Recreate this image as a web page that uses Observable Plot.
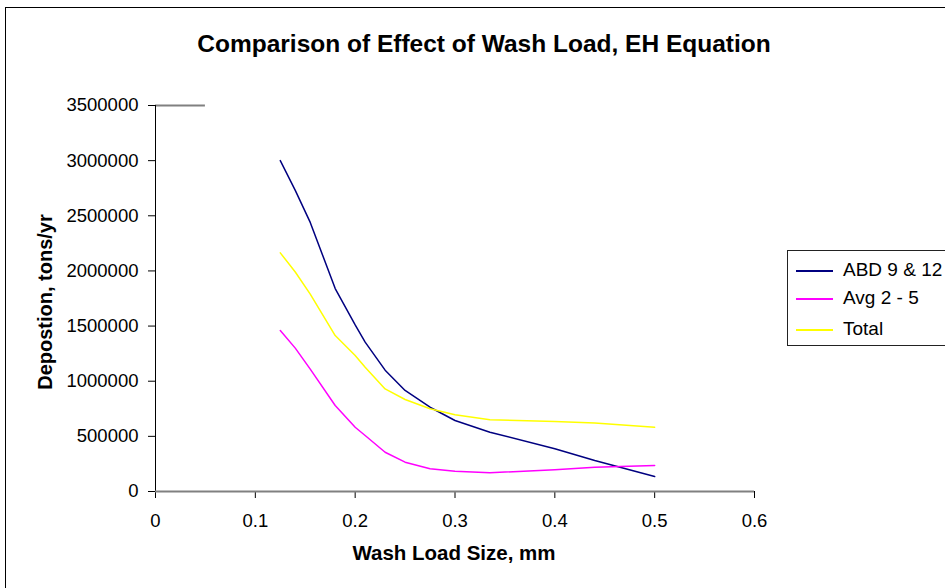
<!DOCTYPE html>
<html>
<head>
<meta charset="utf-8">
<script src="https://cdn.jsdelivr.net/npm/d3@7"></script>
<script src="https://cdn.jsdelivr.net/npm/@observablehq/plot@0.6"></script>
<style>
  html, body { margin: 0; padding: 0; background: #fff; overflow: hidden; }
  #wrap { position: relative; width: 945px; height: 588px; font-family: "Liberation Sans", Arial, sans-serif; }
  #border { position: absolute; left: 5px; top: 7px; width: 960px; height: 600px; border: 1px solid #000; box-sizing: border-box; }
  #title { position: absolute; left: 0; top: 30px; width: 968px; text-align: center; font-weight: bold; font-size: 24.5px; color: #000; }
  #ylabel { position: absolute; left: 45px; top: 302px; transform: translate(-50%, -50%) rotate(-90deg); font-weight: bold; font-size: 20px; white-space: nowrap; }
  #xlabel { position: absolute; left: 0; top: 541px; width: 908px; text-align: center; font-weight: bold; font-size: 20.5px; }
  #chart { position: absolute; left: 0; top: 0; }
  #legend { position: absolute; left: 787px; top: 250px; width: 170px; height: 96px; border: 1px solid #222; box-sizing: border-box; background: #fff; }
  .item { position: absolute; left: 8px; font-size: 19px; white-space: nowrap; }
  .swatch { display: inline-block; width: 37px; height: 0; border-top: 1px solid; vertical-align: middle; margin-right: 10px; }
</style>
</head>
<body>
<div id="wrap">
  <div id="border"></div>
  <div id="title">Comparison of Effect of Wash Load, EH Equation</div>
  <div id="chart"></div>
  <div id="ylabel">Depostion, tons/yr</div>
  <div id="xlabel">Wash Load Size, mm</div>
  <div id="legend"></div>
</div>
<script>
// Data
const sizes = [0.125, 0.14, 0.155, 0.18, 0.2, 0.21, 0.23, 0.25, 0.275, 0.3, 0.335, 0.4, 0.44, 0.5];
const abd912 = [3000000, 2730000, 2440000, 1840000, 1510000, 1354000, 1100000, 916000, 764000, 644000, 538000, 387000, 281000, 136000];
const avg25  = [1460000, 1300000, 1110000, 780000, 583000, 508000, 356000, 266000, 206000, 184000, 170000, 197000, 220000, 236000];
const total  = [2164000, 1990000, 1790000, 1414000, 1233000, 1127000, 930000, 834000, 750000, 695000, 650000, 635000, 620000, 583000];
const seriesNames = ["ABD 9 & 12", "Avg 2 - 5", "Total"];
const seriesColors = ["#000080", "#FF00FF", "#FFFF00"];
const xTicks = [0, 0.1, 0.2, 0.3, 0.4, 0.5, 0.6];
const yTicks = [0, 500000, 1000000, 1500000, 2000000, 2500000, 3000000, 3500000];

const seriesValues = [abd912, avg25, total];
const rows = [];
seriesNames.forEach((name, i) => {
  sizes.forEach((x, j) => rows.push({series: name, x, y: seriesValues[i][j]}));
});

const chart = Plot.plot({
  width: 945,
  height: 588,
  marginTop: 105,
  marginBottom: 97,
  marginLeft: 155,
  marginRight: 191,
  style: {fontFamily: "'Liberation Sans', Arial, sans-serif", fontSize: "18.5px", color: "#000", background: "transparent", overflow: "visible"},
  x: {domain: [0, 0.6]},
  y: {domain: [0, 3500000]},
  color: {domain: seriesNames, range: seriesColors},
  marks: [
    Plot.ruleY([3500000], {x1: 0, x2: 0.05, stroke: "#808080", strokeWidth: 2}),
    Plot.ruleX([0], {stroke: "#000", strokeWidth: 1}),
    Plot.axisY(yTicks, {tickSize: 7, tickPadding: 10, tickFormat: d3.format("d"), label: null, stroke: "#000", fontSize: 18.5}),
    Plot.axisX(xTicks, {tickSize: 7, tickPadding: 15, tickFormat: d => d3.format("")(d), label: null, stroke: "#000", fontSize: 18.5}),
    Plot.ruleY([0], {stroke: "#808080", strokeWidth: 2}),
    Plot.line(rows, {x: "x", y: "y", z: "series", stroke: "series", strokeWidth: 1.5})
  ]
});
document.getElementById("chart").appendChild(chart);

const legend = document.getElementById("legend");
const rowTops = [8, 36, 67];
seriesNames.forEach((name, i) => {
  const d = document.createElement("div");
  d.className = "item";
  d.style.top = rowTops[i] + "px";
  const s = document.createElement("span");
  s.className = "swatch";
  s.style.borderTopColor = seriesColors[i];
  s.style.borderTopWidth = "2px";
  d.appendChild(s);
  d.appendChild(document.createTextNode(name));
  legend.appendChild(d);
});
</script>
</body>
</html>
